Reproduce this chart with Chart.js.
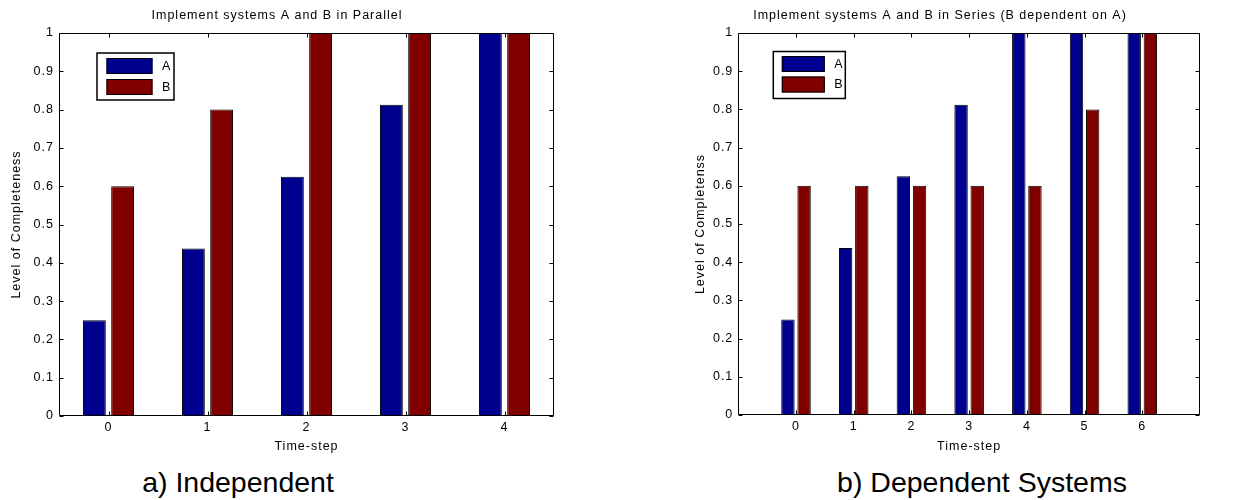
<!DOCTYPE html>
<html>
<head>
<meta charset="utf-8">
<script src="https://cdn.jsdelivr.net/npm/chart.js@4/dist/chart.umd.min.js"></script>
<style>
  body { margin: 0; background: #fff; width: 1238px; height: 500px; position: relative; overflow: hidden; font-family: 'Liberation Sans', Arial, sans-serif; }
  canvas { position: absolute; top: 0; }
  .caption { position: absolute; top: 468px; font-size: 28.5px; line-height: 28px; text-align: center; color: #000; }
</style>
</head>
<body>
<canvas id="parallel-chart" width="600" height="460" style="left:0"></canvas>
<canvas id="series-chart" width="558" height="460" style="left:680px"></canvas>
<div class="caption" style="left:88px;width:300px">a) Independent</div>
<div class="caption" style="left:832px;width:300px">b) Dependent Systems</div>
<script>
// time steps and completeness levels
const parallelSteps = ['0', '1', '2', '3', '4'];
const parallelA = [0.25, 0.4375, 0.625, 0.8125, 1];
const parallelB = [0.6, 0.8, 1, 1, 1];

const seriesSteps = ['0', '1', '2', '3', '4', '5', '6'];
const seriesA = [0.25, 0.4375, 0.625, 0.8125, 1, 1, 1];
const seriesB = [0.6, 0.6, 0.6, 0.6, 0.6, 0.8, 1];

const colorA = '#00008f';
const colorB = '#800000';
const fontFamily = "'Liberation Sans', Arial, sans-serif";
const fontSize = 12.5;
const spacing = '1px'; // the original figure was stretched sideways

Chart.defaults.color = '#000';
Chart.defaults.font.family = fontFamily;
Chart.defaults.font.size = fontSize;

// matlab style box: inward ticks on all four sides + boxed legend
const matlabFrame = {
    id: 'matlabFrame',
    beforeUpdate(chart) { chart.ctx.letterSpacing = spacing; },
    beforeDraw(chart) { chart.ctx.letterSpacing = spacing; },
    afterDraw(chart, args, opts) {
        const {ctx, chartArea: a, scales: {x, y}} = chart;
        const L = Math.round(a.left) + 0.5, R = Math.round(a.right) - 0.5;
        const T = Math.round(a.top) + 0.5, B = Math.round(a.bottom) - 0.5;
        const tl = 4;
        ctx.save();
        ctx.strokeStyle = '#000';
        ctx.lineWidth = 1;
        ctx.beginPath();
        ctx.rect(L, T, R - L, B - T);
        y.ticks.forEach((t, i) => {
            const py = Math.round(y.getPixelForTick(i)) + 0.5;
            ctx.moveTo(L, py); ctx.lineTo(L + tl, py);
            ctx.moveTo(R, py); ctx.lineTo(R - tl, py);
        });
        x.ticks.forEach((t, i) => {
            if (!x.getLabelForValue(t.value)) return;
            const px = Math.round(x.getPixelForTick(i)) + 0.5;
            ctx.moveTo(px, B); ctx.lineTo(px, B - tl);
            ctx.moveTo(px, T); ctx.lineTo(px, T + tl);
        });
        ctx.stroke();

        // legend
        const lg = opts.legend;
        const bx = a.left + lg.x, by = a.top + lg.y;
        ctx.fillStyle = '#fff';
        ctx.fillRect(bx, by, lg.w, lg.h);
        ctx.lineWidth = 1.5;
        ctx.strokeRect(bx, by, lg.w, lg.h);
        ctx.lineWidth = 1;
        ctx.font = fontSize + 'px ' + fontFamily;
        ctx.textBaseline = 'middle';
        ctx.textAlign = 'left';
        chart.data.datasets.forEach((ds, i) => {
            const sy = by + lg.rowY[i];
            ctx.fillStyle = ds.backgroundColor;
            ctx.fillRect(bx + lg.swX, sy, lg.swW, lg.swH);
            ctx.strokeRect(bx + lg.swX + 0.5, sy + 0.5, lg.swW - 1, lg.swH - 1);
            ctx.fillStyle = '#000';
            ctx.fillText(ds.label, bx + lg.textX, sy + lg.swH / 2 + 0.5);
        });
        ctx.restore();
    }
};

function barConfig(title, labels, a, b, yTitle, box) {
    return {
        type: 'bar',
        data: {
            labels: labels,
            datasets: [
                { label: 'A', data: a, backgroundColor: colorA, borderColor: '#000', borderWidth: 1,
                  categoryPercentage: box.cat, barPercentage: box.bar },
                { label: 'B', data: b, backgroundColor: colorB, borderColor: '#000', borderWidth: 1,
                  categoryPercentage: box.cat, barPercentage: box.bar },
            ]
        },
        options: {
            responsive: false,
            animation: false,
            events: [],
            layout: { padding: { left: 0, right: box.padRight, top: 0, bottom: 0 } },
            plugins: {
                legend: { display: false },
                tooltip: { enabled: false },
                title: {
                    display: true,
                    text: title,
                    font: { size: fontSize, weight: 'normal' },
                    padding: { top: 8, bottom: 10 },
                },
                matlabFrame: { legend: box.legend },
            },
            scales: {
                x: {
                    offset: box.offset,
                    grid: { display: false, drawTicks: false, offset: false },
                    border: { display: false },
                    ticks: { padding: 4, maxRotation: 0, autoSkip: false },
                    title: { display: true, text: 'Time-step', padding: { top: 0, bottom: 5.8 } },
                    afterFit(scale) { scale.height = box.xHeight; },
                },
                y: {
                    min: 0,
                    max: 1,
                    ticks: {
                        stepSize: 0.1,
                        padding: 5,
                        callback: (v) => String(Number(v.toFixed(1))),
                    },
                    grid: { display: false, drawTicks: false },
                    border: { display: false },
                    title: { display: true, text: yTitle, padding: { top: box.yTitlePad, bottom: 0 } },
                    afterFit(scale) { scale.width = box.yWidth; },
                }
            }
        },
        plugins: [matlabFrame]
    };
}

const parallelChart = new Chart(
    document.getElementById('parallel-chart'),
    barConfig('Implement systems A and B in Parallel', parallelSteps, parallelA, parallelB,
        'Level of Completeness', {
            cat: 0.57, bar: 0.81, offset: true, padRight: 46, xHeight: 44, yWidth: 59, yTitlePad: 9,
            legend: { x: 38, y: 20, w: 77, h: 47, swX: 9.5, swW: 46, swH: 16, rowY: [5, 26], textX: 65 },
        })
);

// series chart axis runs from -1 to 7, so pad the steps with blank labels
const seriesLabels = [''].concat(seriesSteps, ['']);
const seriesChart = new Chart(
    document.getElementById('series-chart'),
    barConfig('Implement systems A and B in Series (B dependent on A)', seriesLabels,
        [null].concat(seriesA, [null]), [null].concat(seriesB, [null]),
        'Level of Completenss', {
            cat: 0.56, bar: 0.83, offset: false, padRight: 38, xHeight: 45, yWidth: 58.3, yTitlePad: 13,
            legend: { x: 35, y: 18.5, w: 72, h: 47, swX: 8.5, swW: 43, swH: 16, rowY: [4.5, 25], textX: 61 },
        })
);
</script>
</body>
</html>
